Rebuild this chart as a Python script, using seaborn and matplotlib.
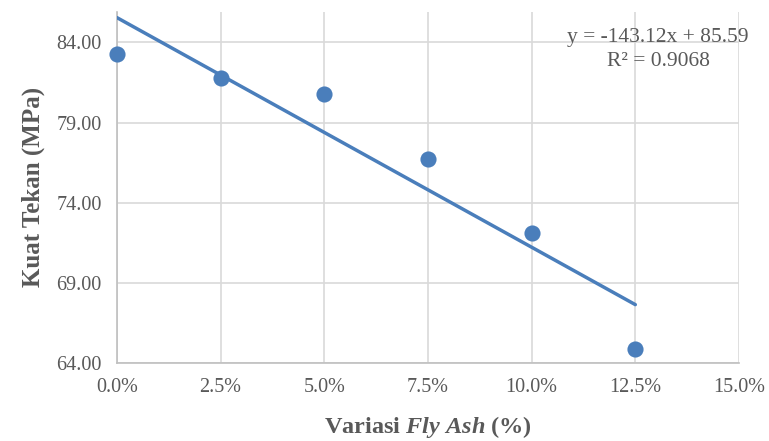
import numpy as np
import pandas as pd
import seaborn as sns
import matplotlib.pyplot as plt
from matplotlib.ticker import FuncFormatter

fly_ash = [0.0, 0.025, 0.05, 0.075, 0.10, 0.125]
kuat_tekan = [83.3, 81.8, 80.75, 76.75, 72.1, 64.85]
y_ticks = [64, 69, 74, 79, 84]
x_ticks = [0.0, 0.025, 0.05, 0.075, 0.10, 0.125, 0.15]
equation = "y = -143.12x + 85.59"
r_squared = "R² = 0.9068"

df = pd.DataFrame({"fly_ash": fly_ash, "kuat_tekan": kuat_tekan})

sns.set_style("white")
plt.rcParams["font.family"] = ["Liberation Serif", "DejaVu Serif"]
plt.rcParams["mathtext.fontset"] = "custom"
plt.rcParams["mathtext.rm"] = "Liberation Serif:bold"
plt.rcParams["mathtext.it"] = "Liberation Serif:bold:italic"

blue = "#4a7ebb"
grey_txt = "#595959"
grid_col = "#d9d9d9"

fig = plt.figure(figsize=(7.69, 4.41), dpi=100)
ax = fig.add_axes([0.152, 0.177, 0.809, 0.796])

sns.regplot(data=df, x="fly_ash", y="kuat_tekan", ax=ax, ci=None,
            scatter_kws={"s": 135, "color": blue, "linewidths": 0, "alpha": 1,
                         "zorder": 4, "clip_on": False},
            line_kws={"color": blue, "lw": 2.5, "zorder": 3})

ax.set_xlim(0, 0.15)
ax.set_ylim(64, 85.9)
ax.set_xticks(x_ticks)
ax.set_yticks(y_ticks)
ax.xaxis.set_major_formatter(FuncFormatter(lambda v, p: f"{v * 100:.1f}%"))
ax.yaxis.set_major_formatter(FuncFormatter(lambda v, p: f"{v:.2f}"))
ax.grid(True, color=grid_col, lw=1.2, zorder=0)
ax.set_axisbelow(True)

for s in ["top", "right"]:
    ax.spines[s].set_visible(False)
for s in ["left", "bottom"]:
    ax.spines[s].set_color("#bfbfbf")
    ax.spines[s].set_linewidth(1.2)
ax.tick_params(axis="both", length=5, width=1.2, color="#bfbfbf",
               labelsize=14.5, labelcolor=grey_txt, pad=6)

ax.set_xlabel(r"Variasi $\mathit{Fly\ Ash}$ (%)", fontsize=17.5, fontweight="bold",
              color=grey_txt, labelpad=12)
ax.set_ylabel("Kuat Tekan (MPa)", fontsize=18, fontweight="bold",
              color=grey_txt, labelpad=8)

ax.text(0.87, 0.926, equation, transform=ax.transAxes, ha="center", va="center",
        fontsize=15.5, color=grey_txt)
ax.text(0.87, 0.858, r_squared, transform=ax.transAxes, ha="center", va="center",
        fontsize=15.5, color=grey_txt)

fig.savefig("out.png", dpi=100)
